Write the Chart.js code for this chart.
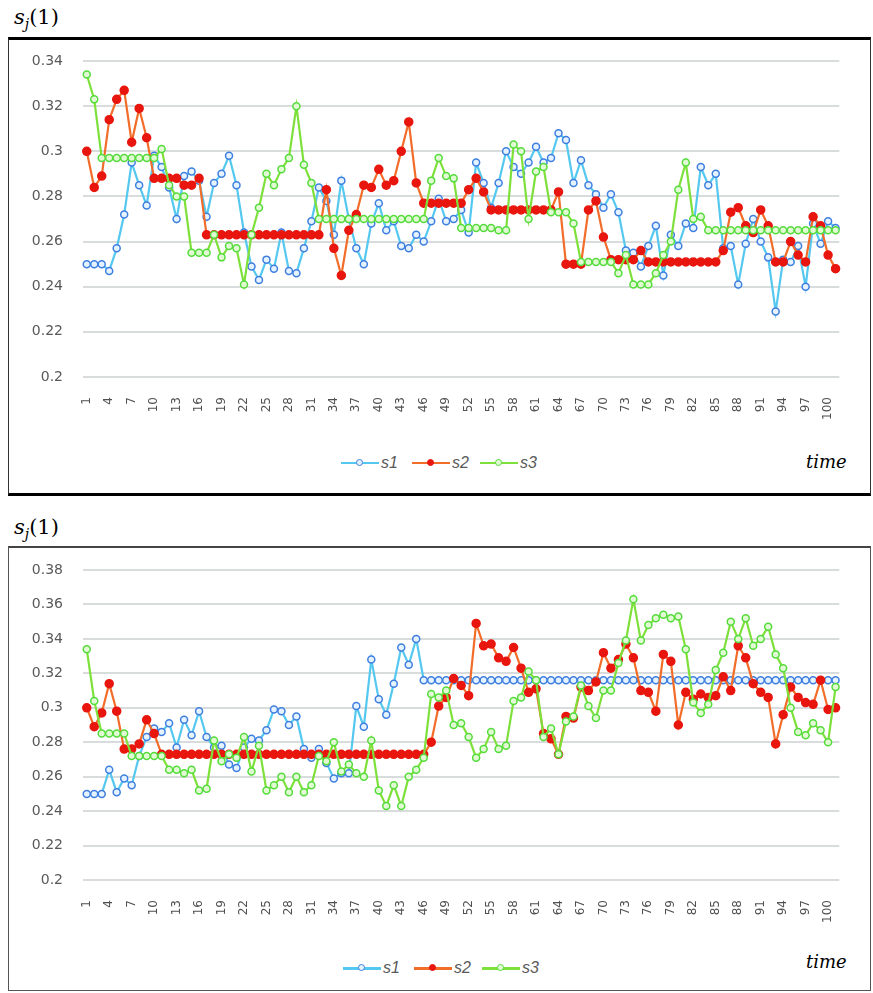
<!DOCTYPE html>
<html>
<head>
<meta charset="utf-8">
<script src="https://cdn.jsdelivr.net/npm/chart.js@4.4.1/dist/chart.umd.min.js"></script>
<style>
    body { margin: 0; background: #fff; width: 873px; height: 993px; position: relative; overflow: hidden; }
    .panel { position: absolute; left: 8px; width: 863px; box-sizing: border-box; }
    #panelTop { top: 37px; height: 459px; border-top: 3px solid #000; border-bottom: 3px solid #000; border-left: 1px solid #333; border-right: 1px solid #333; }
    #panelBottom { top: 546px; height: 445px; border-top: 2px solid #444; border-left: 1px solid #555; border-right: 1px solid #555; border-bottom: 1px solid #555; }
    .title { position: absolute; left: 14px; font-family: 'DejaVu Serif', serif; font-size: 21px; line-height: 1; color: #000; }
    .title sub { font-size: 14px; vertical-align: -5px; }
    canvas { position: absolute; }
    .legend { position: absolute; height: 20px; width: 220px; }
    .item { position: absolute; top: 0; height: 20px; width: 70px; }
    .item .ln { position: absolute; left: 0; top: 9px; width: 38px; height: 2px; }
    .item .mk { position: absolute; left: 15px; top: 6px; width: 5px; height: 5px; border-radius: 50%; border: 1.5px solid; }
    .item .tx { position: absolute; left: 40px; top: 0; font-family: 'Liberation Sans', sans-serif; font-style: italic; font-size: 16px; line-height: 20px; color: #595959; }
    .time { position: absolute; left: 806px; font-family: 'DejaVu Serif', serif; font-style: italic; font-size: 18px; color: #000; }
</style>
</head>
<body>
<div class="panel" id="panelTop"></div>
<div class="panel" id="panelBottom"></div>
<div class="title" style="top:7px"><i>s</i><sub><i>j</i></sub>(1)</div>
<div class="title" style="top:517px"><i>s</i><sub><i>j</i></sub>(1)</div>
<canvas id="chartTop" width="860" height="400" style="left:10px;top:40px"></canvas>
<canvas id="chartBottom" width="860" height="390" style="left:10px;top:550px"></canvas>
<div class="legend" id="legendTop" style="left:341px;top:453px"></div>
<div class="legend" id="legendBottom" style="left:343px;top:958px"></div>
<div class="time" style="top:451px">time</div>
<div class="time" style="top:951px">time</div>
<script>
(function () {
    var seriesNames = ['s1', 's2', 's3'];

    var topYTicks = [0.2, 0.22, 0.24, 0.26, 0.28, 0.3, 0.32, 0.34];
    var bottomYTicks = [0.2, 0.22, 0.24, 0.26, 0.28, 0.3, 0.32, 0.34, 0.36, 0.38];

    var topS1 = [
        0.250, 0.250, 0.250, 0.247, 0.257, 0.272, 0.295, 0.285, 0.276, 0.298,
        0.293, 0.284, 0.270, 0.289, 0.291, 0.287, 0.271, 0.286, 0.290, 0.298,
        0.285, 0.264, 0.249, 0.243, 0.252, 0.248, 0.264, 0.247, 0.246, 0.257,
        0.269, 0.284, 0.278, 0.263, 0.287, 0.270, 0.257, 0.250, 0.268, 0.277,
        0.265, 0.269, 0.258, 0.257, 0.263, 0.260, 0.269, 0.279, 0.269, 0.270,
        0.274, 0.264, 0.295, 0.286, 0.275, 0.286, 0.300, 0.293, 0.290, 0.295,
        0.302, 0.295, 0.297, 0.308, 0.305, 0.286, 0.296, 0.285, 0.281, 0.275,
        0.281, 0.273, 0.256, 0.255, 0.249, 0.258, 0.267, 0.245, 0.263, 0.258,
        0.268, 0.266, 0.293, 0.285, 0.290, 0.257, 0.258, 0.241, 0.259, 0.270,
        0.260, 0.253, 0.229, 0.252, 0.251, 0.258, 0.240, 0.268, 0.259, 0.269,
        0.266
    ];
    var topS2 = [
        0.300, 0.284, 0.289, 0.314, 0.323, 0.327, 0.304, 0.319, 0.306, 0.288,
        0.288, 0.288, 0.288, 0.285, 0.285, 0.288, 0.263, 0.263, 0.263, 0.263,
        0.263, 0.263, 0.263, 0.263, 0.263, 0.263, 0.263, 0.263, 0.263, 0.263,
        0.263, 0.263, 0.283, 0.257, 0.245, 0.265, 0.272, 0.285, 0.284, 0.292,
        0.285, 0.287, 0.300, 0.313, 0.286, 0.277, 0.277, 0.277, 0.277, 0.277,
        0.277, 0.283, 0.288, 0.282, 0.274, 0.274, 0.274, 0.274, 0.274, 0.274,
        0.274, 0.274, 0.274, 0.282, 0.250, 0.250, 0.250, 0.274, 0.278, 0.262,
        0.252, 0.252, 0.252, 0.252, 0.256, 0.251, 0.251, 0.251, 0.251, 0.251,
        0.251, 0.251, 0.251, 0.251, 0.251, 0.256, 0.273, 0.275, 0.267, 0.264,
        0.274, 0.267, 0.251, 0.251, 0.260, 0.254, 0.251, 0.271, 0.267, 0.254,
        0.248
    ];
    var topS3 = [
        0.334, 0.323, 0.297, 0.297, 0.297, 0.297, 0.297, 0.297, 0.297, 0.297,
        0.301, 0.285, 0.280, 0.280, 0.255, 0.255, 0.255, 0.263, 0.253, 0.258,
        0.257, 0.241, 0.263, 0.275, 0.290, 0.285, 0.292, 0.297, 0.320, 0.294,
        0.286, 0.270, 0.270, 0.270, 0.270, 0.270, 0.270, 0.270, 0.270, 0.270,
        0.270, 0.270, 0.270, 0.270, 0.270, 0.270, 0.287, 0.297, 0.289, 0.288,
        0.266, 0.266, 0.266, 0.266, 0.266, 0.265, 0.265, 0.303, 0.300, 0.270,
        0.291, 0.293, 0.273, 0.273, 0.273, 0.268, 0.251, 0.251, 0.251, 0.251,
        0.251, 0.246, 0.254, 0.241, 0.241, 0.241, 0.246, 0.254, 0.260, 0.283,
        0.295, 0.270, 0.271, 0.265, 0.265, 0.265, 0.265, 0.265, 0.265, 0.265,
        0.265, 0.265, 0.265, 0.265, 0.265, 0.265, 0.265, 0.265, 0.265, 0.265,
        0.265
    ];

    var bottomS1 = [
        0.250, 0.250, 0.250, 0.264, 0.251, 0.259, 0.255, 0.272, 0.283, 0.288,
        0.286, 0.291, 0.277, 0.293, 0.284, 0.298, 0.283, 0.277, 0.278, 0.267,
        0.265, 0.277, 0.282, 0.281, 0.287, 0.299, 0.298, 0.290, 0.295, 0.276,
        0.271, 0.276, 0.268, 0.259, 0.262, 0.262, 0.301, 0.289, 0.328, 0.305,
        0.296, 0.314, 0.335, 0.325, 0.340, 0.316, 0.316, 0.316, 0.316, 0.316,
        0.316, 0.316, 0.316, 0.316, 0.316, 0.316, 0.316, 0.316, 0.316, 0.316,
        0.316, 0.316, 0.316, 0.316, 0.316, 0.316, 0.316, 0.316, 0.316, 0.316,
        0.316, 0.316, 0.316, 0.316, 0.316, 0.316, 0.316, 0.316, 0.316, 0.316,
        0.316, 0.316, 0.316, 0.316, 0.316, 0.316, 0.316, 0.316, 0.316, 0.316,
        0.316, 0.316, 0.316, 0.316, 0.316, 0.316, 0.316, 0.316, 0.316, 0.316,
        0.316
    ];
    var bottomS2 = [
        0.300, 0.289, 0.297, 0.314, 0.298, 0.276, 0.276, 0.279, 0.293, 0.285,
        0.273, 0.273, 0.273, 0.273, 0.273, 0.273, 0.273, 0.273, 0.273, 0.273,
        0.273, 0.273, 0.273, 0.273, 0.273, 0.273, 0.273, 0.273, 0.273, 0.273,
        0.273, 0.273, 0.273, 0.273, 0.273, 0.273, 0.273, 0.273, 0.273, 0.273,
        0.273, 0.273, 0.273, 0.273, 0.273, 0.273, 0.280, 0.301, 0.306, 0.317,
        0.313, 0.307, 0.349, 0.336, 0.337, 0.329, 0.327, 0.335, 0.323, 0.309,
        0.311, 0.285, 0.282, 0.273, 0.295, 0.294, 0.312, 0.310, 0.315, 0.332,
        0.323, 0.328, 0.337, 0.329, 0.310, 0.309, 0.298, 0.331, 0.327, 0.290,
        0.309, 0.305, 0.308, 0.306, 0.307, 0.318, 0.310, 0.336, 0.329, 0.314,
        0.309, 0.306, 0.279, 0.296, 0.312, 0.306, 0.303, 0.302, 0.316, 0.299,
        0.300
    ];
    var bottomS3 = [
        0.334, 0.304, 0.285, 0.285, 0.285, 0.285, 0.272, 0.272, 0.272, 0.272,
        0.272, 0.264, 0.264, 0.262, 0.264, 0.252, 0.253, 0.281, 0.269, 0.273,
        0.271, 0.283, 0.263, 0.278, 0.252, 0.255, 0.260, 0.251, 0.260, 0.251,
        0.255, 0.272, 0.269, 0.280, 0.263, 0.267, 0.262, 0.260, 0.281, 0.252,
        0.243, 0.255, 0.243, 0.260, 0.264, 0.271, 0.308, 0.306, 0.310, 0.290,
        0.291, 0.283, 0.271, 0.276, 0.286, 0.276, 0.278, 0.304, 0.306, 0.321,
        0.316, 0.283, 0.288, 0.273, 0.292, 0.295, 0.313, 0.301, 0.294, 0.310,
        0.310, 0.326, 0.339, 0.363, 0.339, 0.348, 0.352, 0.354, 0.352, 0.353,
        0.334, 0.303, 0.297, 0.302, 0.322, 0.332, 0.350, 0.340, 0.352, 0.336,
        0.340, 0.347, 0.331, 0.323, 0.300, 0.286, 0.284, 0.291, 0.287, 0.280,
        0.312
    ];

    // time steps 1..101, every third one is labelled
    var timeLabels = [];
    for (var i = 1; i <= topS1.length; i++) {
        timeLabels.push(String(i));
    }
    var labelEvery = 3;

    var styles = [
        { line: '#55c8f0', mark: '#3f7fe0', fill: '#e4f3ff', radius: 3.5, order: 3 },
        { line: '#f26c2a', mark: '#e8160e', fill: '#e8160e', radius: 4, order: 2 },
        { line: '#7ee03a', mark: '#55dc3c', fill: '#e2fad4', radius: 3.5, order: 1 }
    ];

    function makeDatasets(values) {
        return values.map(function (data, k) {
            var st = styles[k];
            return {
                label: seriesNames[k],
                data: data,
                order: st.order,
                borderColor: st.line,
                borderWidth: 2.2,
                tension: 0,
                pointRadius: st.radius,
                pointBorderWidth: 1.5,
                pointBorderColor: st.mark,
                pointBackgroundColor: st.fill
            };
        });
    }

    function drawChart(canvasId, values, yTicks, topPad, xHeight) {
        var el = document.getElementById(canvasId);
        new Chart(el, {
            type: 'line',
            data: { labels: timeLabels, datasets: makeDatasets(values) },
            options: {
                responsive: false,
                animation: false,
                devicePixelRatio: 1,
                layout: { padding: { left: 0, right: 6, top: topPad, bottom: 0 } },
                plugins: { legend: { display: false }, tooltip: { enabled: false } },
                scales: {
                    x: {
                        offset: true,
                        grid: { display: false, drawTicks: false },
                        border: { display: false },
                        ticks: {
                            autoSkip: false,
                            maxRotation: 90,
                            minRotation: 90,
                            padding: 20,
                            color: '#505050',
                            font: { family: 'DejaVu Sans', size: 12 },
                            callback: function (val, idx) {
                                return idx % labelEvery === 0 ? this.getLabelForValue(val) : '';
                            }
                        },
                        afterFit: function (scale) { scale.height = xHeight; }
                    },
                    y: {
                        min: yTicks[0],
                        max: yTicks[yTicks.length - 1],
                        afterBuildTicks: function (scale) {
                            scale.ticks = yTicks.map(function (v) { return { value: v }; });
                        },
                        grid: { color: '#d8dcdc', lineWidth: 2, drawTicks: false },
                        border: { display: false },
                        ticks: {
                            padding: 20,
                            color: '#595959',
                            font: { family: 'DejaVu Sans', size: 14 },
                            callback: function (v) { return String(Number(v.toFixed(2))); }
                        },
                        afterFit: function (scale) {
                            scale.width = 73;
                            // keep the tick padding from pushing the plot area down
                            scale.paddingTop = 0;
                            scale.paddingBottom = 0;
                        }
                    }
                }
            }
        });
    }

    function buildLegend(id, lineHeight) {
        var box = document.getElementById(id);
        var xs = [0, 71, 139];
        seriesNames.forEach(function (name, k) {
            var st = styles[k];
            var item = document.createElement('div');
            item.className = 'item';
            item.style.left = xs[k] + 'px';
            item.innerHTML = '<div class="ln" style="background:' + st.line + ';height:' + lineHeight + 'px"></div>' +
                '<div class="mk" style="border-color:' + st.mark + ';background:' + st.fill + '"></div>' +
                '<div class="tx">' + name + '</div>';
            box.appendChild(item);
        });
    }

    drawChart('chartTop', [topS1, topS2, topS3], topYTicks, 21, 63);
    drawChart('chartBottom', [bottomS1, bottomS2, bottomS3], bottomYTicks, 20, 60);
    buildLegend('legendTop', 2);
    buildLegend('legendBottom', 3);
})();
</script>
</body>
</html>
